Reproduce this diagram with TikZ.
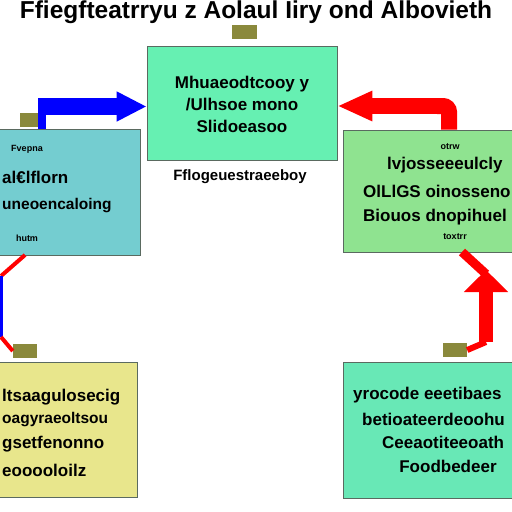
\documentclass[tikz,border=0pt]{standalone}
\usepackage{fontspec}
\setmainfont{Liberation Sans}
\usetikzlibrary{arrows.meta}
\definecolor{mintA}{HTML}{66F0B2}
\definecolor{tealA}{HTML}{74CDD0}
\definecolor{greenA}{HTML}{8FE390}
\definecolor{yellowA}{HTML}{E8E68C}
\definecolor{mintB}{HTML}{68E8B6}
\definecolor{oliveA}{HTML}{8A893C}
\definecolor{edgeA}{HTML}{5A6A60}
\tikzset{
  boxA/.style={draw=edgeA, line width=0.8pt, inner sep=0pt},
  tagbox/.style={fill=oliveA, inner sep=0pt, minimum width=24pt, minimum height=14pt},
  big/.style={font=\fontsize{17}{22}\selectfont\bfseries, inner sep=0pt},
  snug/.style={font=\fontsize{15.5}{20}\selectfont\bfseries, inner sep=0pt},
  small/.style={font=\fontsize{9}{10}\selectfont\bfseries, inner sep=0pt},
  bluearrow/.style={blue, line width=17pt, -{Triangle[length=30pt,width=28pt]}},
  redarrow/.style={red, line width=16pt, -{Triangle[length=35pt,width=28pt]}},
  redline/.style={red, line width=4pt},
  blueline/.style={blue, line width=4pt},
}
\begin{document}
\begin{tikzpicture}[x=1pt,y=-1pt]
\useasboundingbox (0,0) rectangle (512,512);
\fill[white] (0,0) rectangle (512,512);
\clip (0,0) rectangle (512,512);
% title
\node[font=\fontsize{24.5}{24}\selectfont\bfseries, inner sep=0pt] (title) at (256,12) {Ffiegfteatrryu z Aolaul Iiry ond Albovieth};
% boxes
\node[boxA, fill=mintA, minimum width=190pt, minimum height=114pt] (top) at (242,103) {};
\node[tagbox, minimum width=25pt] (tagT) at (244.5,32) {};
\node[boxA, fill=tealA, minimum width=160pt, minimum height=126pt] (left) at (60,192) {};
\node[tagbox, minimum width=19pt] (tagL) at (29,120) {};
\node[boxA, fill=greenA, minimum width=178pt, minimum height=122pt] (right) at (432,191) {};
\node[boxA, fill=yellowA, minimum width=157pt, minimum height=135pt] (bl) at (58.5,429.5) {};
\node[tagbox] (tagBL) at (25,351) {};
\node[boxA, fill=mintB, minimum width=182pt, minimum height=136pt] (br) at (434,430) {};
\node[tagbox] (tagBR) at (455,350) {};
% top box text
\node[big, align=center] (tTxt) at (242,104) {Mhuaeodtcooy y\\/Ulhsoe mono\\Slidoeasoo};
\node[font=\fontsize{15}{15}\selectfont\bfseries, inner sep=0pt] (cap) at (240,177) {Fflogeuestraeeboy};
% left box text
\node[small] (l1) at (27,149) {Fvepna};
\node[big, anchor=west] (l2) at (2,177) {al€lflorn};
\node[snug, anchor=west] (l3) at (2,206) {uneoencaloing};
\node[small] (l4) at (27,238) {hutm};
% right box text
\node[small] (r1) at (450,147) {otrw};
\node[big, anchor=west] (r2) at (387,165) {lvjosseeeulcly};
\node[big, anchor=west] (r3) at (363,191) {OlLlGS oinosseno};
\node[big, anchor=west] (r4) at (363,217) {Biouos dnopihuel};
\node[small] (r5) at (455,237) {toxtrr};
% bottom-left text
\node[big, anchor=west] (b1) at (2,397) {ltsaagulosecig};
\node[snug, anchor=west] (b2) at (2,420) {oagyraeoltsou};
\node[big, anchor=west] (b3) at (2,444) {gsetfenonno};
\node[big, anchor=west] (b4) at (2,470) {eooooloilz};
% bottom-right text
\node[big, anchor=west] (c1) at (353,395) {yrocode eeetibaes};
\node[big, anchor=west] (c2) at (362,419) {betioateerdeoohu};
\node[big, anchor=west] (c3) at (382,442) {Ceeaotiteeoath};
\node[big] (c4) at (448,466) {Foodbedeer};
% connectors
\coordinate (bA) at (42,100);
\coordinate (bB) at (38,106.5);
\draw[blue, line width=8pt] (left.north -| bA) -- (bA);
\draw[bluearrow] (bB) -- (bB -| top.west);
\coordinate (rA) at (449,106);
\draw[red, line width=16pt, rounded corners=6pt] (right.north -| rA) -- (rA) -- ++(-12,0);
\draw[redarrow] (437,106) -- (rA -| top.east);
\coordinate (lA) at (25,255);
\coordinate (lB) at (1,276);
\coordinate (lC) at (1,337);
\draw[redline] (lA) -- (lB);
\draw[blueline] (lB) -- (lC);
\draw[redline] (lC) -- (tagBL.west);
\coordinate (kA) at (462,252);
\coordinate (kB) at (486,274);
\coordinate (kC) at (486,342);
\draw[red, line width=9pt] (kA) -- (kB);
\draw[red, line width=6pt] (tagBR.east) -- (kC);
\draw[red, line width=14pt, -{Triangle[length=22pt,width=43pt]}] (kC) -- (486,270);
\end{tikzpicture}
\end{document}
